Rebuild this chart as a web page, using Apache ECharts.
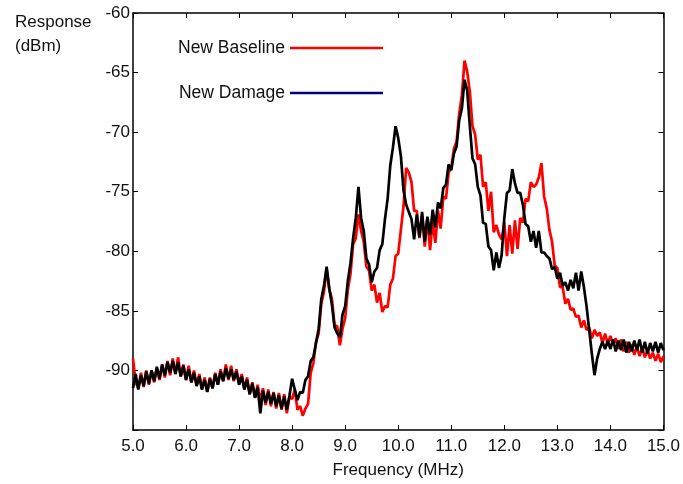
<!DOCTYPE html>
<html>
<head>
<meta charset="utf-8">
<script src="https://cdn.jsdelivr.net/npm/echarts@6/dist/echarts.min.js"></script>
<style>
  html, body { margin: 0; padding: 0; background: #fff; }
  #chart { width: 683px; height: 484px; }
</style>
</head>
<body>
<div id="chart"></div>
<script>
// sampling grid of the sweep (MHz)
const freqStart = 5.0
const freqStep = 0.05

// New Baseline, one row per MHz (5.00 ... 14.95), then 15.00
const baseline = [
  -89.0, -91.0, -91.5, -90.2, -91.4, -90.0, -91.2, -90.0, -91.0, -89.8, -90.8, -89.5, -90.6, -89.2, -90.4, -89.0, -90.3, -88.9, -90.5, -89.5,
  -90.8, -89.6, -91.0, -90.0, -91.3, -90.3, -91.6, -90.6, -91.8, -90.6, -91.5, -90.2, -91.2, -89.9, -90.9, -89.5, -90.8, -89.6, -90.9, -89.9,
  -91.1, -90.3, -91.6, -90.6, -92.0, -91.0, -92.3, -91.2, -92.6, -91.5, -92.9, -91.6, -93.0, -91.8, -93.2, -91.9, -93.3, -92.0, -93.6, -92.2,
  -92.4, -91.6, -93.3, -93.0, -93.8, -93.2, -92.8, -90.2, -89.4, -87.6, -86.9, -84.4, -83.4, -81.5, -83.2, -84.0, -86.2, -86.3, -87.9, -86.5,
  -85.6, -83.2, -81.9, -79.4, -78.9, -76.9, -78.3, -79.2, -81.3, -81.6, -83.3, -82.8, -84.3, -83.5, -85.1, -84.6, -84.7, -82.8, -82.3, -80.4,
  -80.2, -78.2, -76.2, -73.0, -73.4, -74.2, -76.6, -76.6, -78.9, -77.0, -79.6, -77.2, -79.9, -77.5, -79.3, -76.6, -78.1, -75.4, -75.6, -73.4,
  -73.0, -71.4, -70.8, -68.4, -66.9, -64.0, -64.9, -66.6, -69.5, -70.2, -72.3, -71.9, -74.6, -74.2, -76.6, -75.0, -78.4, -77.8, -78.6, -79.0,
  -77.6, -80.4, -77.8, -80.2, -77.4, -79.8, -77.2, -77.6, -75.6, -75.8, -74.2, -74.6, -74.4, -73.8, -72.6, -75.4, -76.4, -78.2, -79.2, -81.2,
  -81.4, -83.0, -83.0, -84.4, -84.0, -84.9, -84.8, -85.5, -85.4, -86.4, -85.8, -86.6, -86.4, -87.3, -86.6, -87.1, -86.8, -87.7, -86.9, -87.8,
  -87.1, -87.8, -87.3, -88.2, -87.4, -88.4, -87.6, -88.5, -87.8, -88.7, -88.0, -88.8, -88.1, -88.9, -88.3, -89.0, -88.5, -89.2, -88.6, -89.3,
  -88.8
]

// New Damage, same grid
const damage = [
  -91.5, -90.3, -91.6, -90.4, -91.3, -90.1, -91.1, -90.0, -90.9, -89.7, -90.7, -89.5, -90.4, -89.3, -90.2, -89.2, -90.3, -89.3, -90.5, -89.6,
  -90.8, -89.9, -91.0, -90.2, -91.3, -90.5, -91.6, -90.8, -91.8, -90.7, -91.5, -90.3, -91.2, -90.1, -90.9, -89.8, -90.7, -89.9, -90.8, -90.1,
  -91.2, -90.5, -91.6, -90.8, -92.0, -91.1, -92.3, -91.4, -93.6, -91.7, -92.7, -91.8, -92.8, -91.9, -93.0, -92.1, -93.2, -92.2, -93.3, -92.1,
  -90.7, -91.6, -92.5, -91.8, -91.9, -90.8, -90.5, -89.2, -88.9, -87.7, -86.5, -84.0, -82.9, -81.3, -83.1, -84.5, -86.4, -86.9, -87.2, -85.3,
  -84.6, -82.5, -81.0, -78.9, -77.2, -74.6, -77.2, -78.3, -80.6, -81.1, -82.6, -81.7, -81.4, -79.9, -79.4, -77.3, -75.6, -72.8, -71.3, -69.5,
  -70.5, -72.0, -74.9, -76.1, -76.7, -77.3, -79.0, -76.9, -78.8, -76.7, -79.2, -77.1, -78.6, -76.5, -78.0, -75.9, -76.4, -74.7, -74.4, -72.7,
  -73.2, -71.8, -71.2, -69.0, -68.0, -65.6, -66.5, -69.5, -72.2, -72.7, -74.6, -75.3, -77.6, -77.7, -79.6, -79.9, -81.6, -80.1, -81.4, -80.3,
  -77.2, -75.1, -74.9, -73.1, -74.3, -75.1, -75.1, -76.1, -77.7, -77.9, -79.2, -78.3, -79.7, -78.3, -80.1, -80.1, -80.4, -80.6, -81.5, -81.3,
  -82.3, -81.8, -82.9, -82.6, -83.3, -82.4, -83.1, -81.8, -83.3, -81.7, -83.0, -84.6, -86.6, -88.6, -90.4, -89.0, -88.2, -87.6, -88.2, -87.5,
  -88.2, -87.4, -88.4, -87.5, -88.3, -87.4, -88.5, -87.6, -88.4, -87.5, -88.3, -87.4, -88.5, -87.6, -88.6, -87.7, -88.4, -87.6, -88.5, -87.7,
  -88.3
]

const yTicks = [-90, -85, -80, -75, -70, -65, -60]

const toPairs = arr => arr.map((v, i) => [+(freqStart + i * freqStep).toFixed(2), v])

const font = 'Liberation Sans, Arial, sans-serif'
const axisLine = { show: true, lineStyle: { color: '#000', width: 1.5 } }
const tickIn = { show: true, inside: true, length: 5, lineStyle: { color: '#000', width: 1 } }

const chart = echarts.init(document.getElementById('chart'))

chart.setOption({
  animation: false,
  backgroundColor: '#fff',
  textStyle: { fontFamily: font },
  grid: { left: 133, right: 15, top: 13, bottom: 49 },
  legend: {
    orient: 'vertical',
    left: 173,
    top: 34,
    align: 'right',
    icon: 'rect',
    itemWidth: 93,
    itemHeight: 2.5,
    itemGap: 27,
    textStyle: { fontSize: 17.5, color: '#111', fontFamily: font },
    data: [
      { name: 'New Baseline', itemStyle: { color: '#ff0000' } },
      { name: 'New Damage', itemStyle: { color: '#000080' } }
    ]
  },
  graphic: [
    {
      type: 'text',
      left: 15,
      top: 10,
      style: { text: 'Response\n(dBm)', fontSize: 17, fontFamily: font, fill: '#111', lineHeight: 24 }
    }
  ],
  xAxis: [
    {
      type: 'value',
      min: 5,
      max: 15,
      interval: 1,
      name: 'Frequency (MHz)',
      nameLocation: 'middle',
      nameGap: 32,
      nameTextStyle: { fontSize: 17, color: '#111' },
      axisLine: axisLine,
      axisTick: tickIn,
      splitLine: { show: false },
      axisLabel: { fontSize: 17, color: '#111', margin: 8, formatter: v => v.toFixed(1) }
    },
    {
      type: 'value',
      position: 'top',
      min: 5,
      max: 15,
      interval: 1,
      axisLine: axisLine,
      axisTick: tickIn,
      splitLine: { show: false },
      axisLabel: { show: false }
    }
  ],
  yAxis: [
    {
      type: 'value',
      min: -95,
      max: -60,
      interval: 5,
      axisLine: axisLine,
      axisTick: tickIn,
      splitLine: { show: false },
      axisLabel: {
        fontSize: 17,
        color: '#111',
        margin: 3,
        formatter: v => (yTicks.indexOf(v) >= 0 ? String(v) : '')
      }
    },
    {
      type: 'value',
      position: 'right',
      min: -95,
      max: -60,
      interval: 5,
      axisLine: axisLine,
      axisTick: tickIn,
      splitLine: { show: false },
      axisLabel: { show: false }
    }
  ],
  series: [
    {
      name: 'New Baseline',
      type: 'line',
      data: toPairs(baseline),
      showSymbol: false,
      lineStyle: { color: '#ff0000', width: 2.7 },
      itemStyle: { color: '#ff0000' }
    },
    {
      name: 'New Damage',
      type: 'line',
      data: toPairs(damage),
      showSymbol: false,
      lineStyle: { color: '#000', width: 2.7 },
      itemStyle: { color: '#000' }
    }
  ]
})
</script>
</body>
</html>
